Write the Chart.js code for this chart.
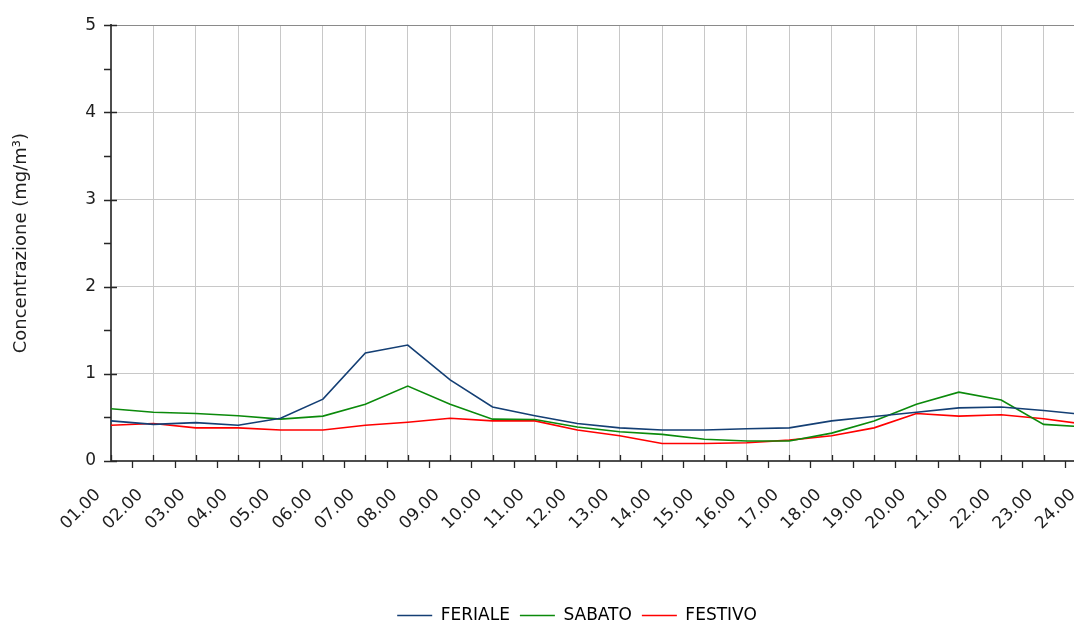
<!DOCTYPE html>
<html>
<head>
<meta charset="utf-8">
<script src="https://cdn.jsdelivr.net/npm/chart.js@4.4.1/dist/chart.umd.min.js"></script>
<style>
  html, body { margin: 0; padding: 0; background: #ffffff; overflow: hidden; width: 1074px; height: 623px; }
  #wrap { position: absolute; left: 0; top: 0; width: 1154px; height: 634px; }
</style>
</head>
<body>
<div id="wrap"><canvas id="chart" width="1154" height="634"></canvas></div>
<script>
// Hourly categories (x axis)
const hours = ['01.00','02.00','03.00','04.00','05.00','06.00','07.00','08.00','09.00','10.00','11.00','12.00',
               '13.00','14.00','15.00','16.00','17.00','18.00','19.00','20.00','21.00','22.00','23.00','24.00'];

// Mean hourly concentration, mg/m³
const feriale = [0.46, 0.42, 0.44, 0.41, 0.49, 0.71, 1.24, 1.33, 0.93, 0.62, 0.52, 0.43,
                 0.38, 0.355, 0.355, 0.37, 0.38, 0.46, 0.51, 0.56, 0.61, 0.62, 0.58, 0.53];
const sabato  = [0.60, 0.56, 0.545, 0.52, 0.48, 0.515, 0.65, 0.86, 0.65, 0.48, 0.477, 0.39,
                 0.335, 0.305, 0.25, 0.23, 0.23, 0.32, 0.46, 0.65, 0.79, 0.70, 0.42, 0.39];
const festivo = [0.41, 0.43, 0.38, 0.38, 0.355, 0.355, 0.41, 0.445, 0.49, 0.46, 0.46, 0.355,
                 0.29, 0.20, 0.20, 0.21, 0.24, 0.29, 0.38, 0.545, 0.515, 0.53, 0.485, 0.42];

// Value axis range
const yMin = 0, yMax = 5, yStep = 1;

const seriesNames = ['FERIALE', 'SABATO', 'FESTIVO'];
const seriesColors = ['#143f74', '#0b8a0b', '#ff0000'];

Chart.defaults.font.family = '"DejaVu Sans", sans-serif';
Chart.defaults.color = '#1e1e1e';

// Small major/minor tick marks on both axes
const axisMarks = {
  id: 'axisMarks',
  afterDraw(chart) {
    const { ctx, chartArea: a, scales: { x, y } } = chart;
    const al = (v) => Math.round(v) + 0.5;
    ctx.save();
    ctx.strokeStyle = '#262626';
    ctx.lineWidth = 1.3;
    ctx.beginPath();
    for (let i = 0; i < hours.length; i++) {
      const px = al(x.getPixelForValue(i));
      ctx.moveTo(px, a.bottom - 6); ctx.lineTo(px, a.bottom);
      if (i < hours.length - 1) {
        const mx = al((x.getPixelForValue(i) + x.getPixelForValue(i + 1)) / 2);
        ctx.moveTo(mx, a.bottom); ctx.lineTo(mx, a.bottom + 7);
      }
    }
    for (let v = yMin; v <= yMax; v += 0.5) {
      const py = al(y.getPixelForValue(v));
      if (Number.isInteger(v)) { ctx.moveTo(a.left - 7, py); ctx.lineTo(a.left + 6, py); }
      else { ctx.moveTo(a.left - 7, py); ctx.lineTo(a.left, py); }
    }
    ctx.stroke();
    ctx.restore();
  }
};

new Chart(document.getElementById('chart'), {
  type: 'line',
  data: {
    labels: hours,
    datasets: [
      { label: seriesNames[0], data: feriale, borderColor: seriesColors[0], backgroundColor: seriesColors[0] },
      { label: seriesNames[1], data: sabato,  borderColor: seriesColors[1], backgroundColor: seriesColors[1] },
      { label: seriesNames[2], data: festivo, borderColor: seriesColors[2], backgroundColor: seriesColors[2] }
    ]
  },
  options: {
    responsive: false,
    animation: false,
    devicePixelRatio: 1,
    elements: {
      line: { borderWidth: 1.6, tension: 0 },
      point: { radius: 0, hoverRadius: 0 }
    },
    layout: { padding: { top: 24, left: 0, right: 0, bottom: 0 } },
    plugins: {
      legend: {
        position: 'bottom',
        labels: {
          usePointStyle: true,
          pointStyle: 'line',
          pointStyleWidth: 35,
          padding: 10,
          color: '#1e1e1e',
          font: { size: 17 },
          generateLabels(chart) {
            return chart.data.datasets.map((ds, i) => ({
              text: ds.label,
              strokeStyle: ds.borderColor,
              fillStyle: ds.borderColor,
              lineWidth: 1.6,
              pointStyle: 'line',
              hidden: false,
              datasetIndex: i
            }));
          }
        }
      },
      tooltip: { enabled: false }
    },
    scales: {
      x: {
        type: 'category',
        offset: false,
        grid: { color: '#c8c8c8', lineWidth: 1, drawTicks: false },
        border: { color: '#4d4d4d', width: 2 },
        ticks: {
          autoSkip: false,
          maxRotation: 45,
          minRotation: 45,
          padding: 24,
          labelOffset: -13,
          font: { size: 17 },
          color: '#1e1e1e'
        },
        afterFit(s) {
          const lg = s.chart.legend ? s.chart.legend.height : 37;
          s.height = s.chart.height - 461 - lg;
          s.paddingRight = s.chart.width - 1086;
        }
      },
      y: {
        min: yMin,
        max: yMax,
        grid: {
          color: (c) => (c.tick && c.tick.value === yMax ? '#8a8a8a' : '#c8c8c8'),
          lineWidth: 1,
          drawTicks: false
        },
        border: { color: '#4d4d4d', width: 2 },
        ticks: { stepSize: yStep, padding: 15, font: { size: 17 }, color: '#1e1e1e' },
        title: {
          display: true,
          text: 'Concentrazione (mg/m³)',
          font: { size: 18 },
          color: '#1e1e1e',
          padding: { top: 11, bottom: 0 }
        },
        afterFit(s) { s.width = 111; }
      }
    }
  },
  plugins: [axisMarks]
});
</script>
</body>
</html>
